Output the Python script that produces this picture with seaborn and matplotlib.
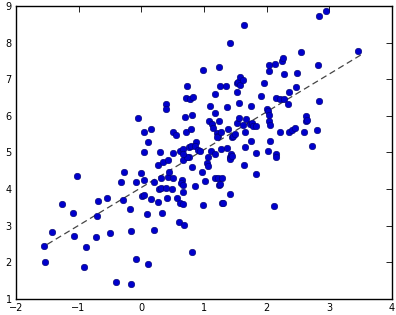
import matplotlib
matplotlib.use("Agg")
import matplotlib.pyplot as plt
import seaborn as sns
import pandas as pd

x_vals = [
    -1.55, -1.53, -1.42, -1.27, -1.09, -1.07, -1.02, -0.91, -0.88, -0.72,
    -0.71, -0.69, -0.55, -0.50, -0.41, -0.33, -0.29, -0.275, -0.18, -0.17,
    -0.17, -0.09, -0.08, -0.056, -0.01,
    0.01, 0.05, 0.045, 0.045, 0.045, 0.10, 0.10, 0.09, 0.15, 0.15,
    0.20, 0.21, 0.27, 0.28, 0.31, 0.27, 0.30, 0.32, 0.33, 0.34,
    0.40, 0.40, 0.40, 0.41, 0.43, 0.43, 0.45, 0.49,
    0.51, 0.55, 0.51, 0.51, 0.57, 0.60, 0.62, 0.62, 0.65, 0.64,
    0.66, 0.66, 0.66, 0.68, 0.67, 0.67, 0.70, 0.71, 0.71, 0.727,
    0.76, 0.76, 0.78, 0.73, 0.80, 0.80, 0.81, 0.81, 0.82, 0.81,
    0.86, 0.87, 0.85, 0.91, 0.93, 0.97, 0.98, 0.98, 0.67,
    1.01, 1.05, 1.07, 1.07, 1.08, 1.09, 1.11, 1.13, 1.15, 1.17,
    1.18, 1.18, 1.18, 1.21, 1.23, 1.21, 1.23, 1.24, 1.26, 1.24,
    1.24, 1.25, 1.27, 1.27, 1.29, 1.29, 1.31, 1.35, 1.37, 1.37,
    1.38, 1.41, 1.41, 1.42, 1.43, 1.42, 1.45, 1.45, 1.47, 1.50,
    1.52, 1.52, 1.53, 1.54, 1.56, 1.56, 1.57, 1.58, 1.63, 1.63,
    1.64, 1.64, 1.65, 1.66, 1.67, 1.74, 1.75, 1.75, 1.76, 1.79,
    1.83, 1.83, 1.83, 1.91, 1.96,
    2.00, 2.02, 2.02, 2.03, 2.04, 2.04, 2.04, 2.06, 2.05, 2.12,
    2.14, 2.15, 2.15, 2.15, 2.21, 2.22, 2.25, 2.26, 2.28, 2.28,
    2.34, 2.35, 2.36, 2.40, 2.46, 2.47, 2.48, 2.55, 2.60, 2.62,
    2.63, 2.65, 2.72, 2.80, 2.82, 2.83, 2.84, 2.95, 3.46,
]
y_vals = [
    2.44, 2.01, 2.83, 3.58, 3.35, 2.72, 4.37, 1.86, 2.42, 2.69,
    3.26, 3.68, 3.76, 2.79, 1.47, 4.19, 3.70, 4.47, 3.45, 2.86,
    1.40, 4.20, 2.09, 5.94, 4.45,
    3.81, 3.84, 4.26, 5.57, 5.02, 5.28, 1.96, 3.31, 3.72, 5.65,
    2.88, 4.20, 3.64, 4.00, 4.02, 4.66, 5.02, 4.29, 3.36, 4.73,
    6.32, 6.20, 4.02, 3.75, 4.79, 4.34, 4.47, 3.99,
    5.56, 5.48, 4.98, 4.31, 3.76, 3.11, 3.61, 5.05, 4.25, 4.16,
    4.11, 3.58, 3.93, 3.02, 4.79, 5.09, 5.96, 5.57, 6.49, 6.81,
    4.87, 5.14, 6.45, 4.88, 5.63, 5.18, 4.59, 2.27, 6.52, 6.03,
    4.08, 5.28, 5.17, 5.08, 5.05, 4.47, 3.57, 7.25, 4.95,
    4.22, 4.70, 4.63, 4.88, 5.87, 6.27, 5.05, 5.78, 5.68, 4.96,
    6.08, 6.61, 4.30, 5.52, 5.46, 5.43, 4.31, 4.10, 4.13, 5.87,
    7.33, 6.82, 5.56, 5.09, 4.29, 3.61, 3.61, 6.82, 6.23, 5.13,
    5.63, 3.86, 4.88, 4.81, 4.96, 8.00, 4.90, 5.43, 5.45, 5.50,
    6.90, 6.66, 5.80, 6.93, 6.36, 5.95, 7.07, 6.84, 6.98, 5.75,
    8.49, 4.66, 5.16, 5.57, 5.92, 5.78, 5.32, 6.27, 5.81, 5.73,
    5.73, 4.98, 4.41, 6.53, 6.89,
    6.19, 6.13, 5.05, 7.22, 7.40, 6.01, 5.87, 5.76, 5.32, 3.54,
    7.42, 6.49, 4.96, 4.88, 6.45, 5.55, 7.51, 7.57, 7.14, 6.47,
    6.32, 5.56, 6.66, 5.61, 5.66, 6.80, 7.16, 7.73, 5.55, 5.87,
    5.99, 5.90, 5.17, 5.60, 7.39, 8.73, 6.40, 8.85, 7.78,
]

# fitted line
line_x = [-1.5, 3.5]
line_y = [2.49, 7.66]

x_ticks = [-2, -1, 0, 1, 2, 3, 4]
y_ticks = [1, 2, 3, 4, 5, 6, 7, 8, 9]

df = pd.DataFrame({"x": x_vals, "y": y_vals})
line_df = pd.DataFrame({"x": line_x, "y": line_y})

sns.set_style("white")
plt.rcParams['font.family'] = ['DejaVu Sans']

fig = plt.figure(figsize=(3.96, 3.15), dpi=100)
ax = fig.add_axes([0.040, 0.051, 0.950, 0.930])

sns.scatterplot(data=df, x="x", y="y", ax=ax, s=22, color="#0000cc",
                edgecolor="#000066", linewidth=0.4, zorder=3)
sns.lineplot(data=line_df, x="x", y="y", ax=ax, color="#444444",
             linestyle=(0, (5, 3)), linewidth=0.9, zorder=2)

ax.set_xlim(-2, 4)
ax.set_ylim(1, 9)
ax.set_xticks(x_ticks)
ax.set_yticks(y_ticks)
ax.set_xticklabels([str(t).replace("-", "\u2212") for t in x_ticks])
ax.set_yticklabels([str(t) for t in y_ticks])
ax.set_xlabel("")
ax.set_ylabel("")
ax.tick_params(direction="in", top=True, right=True, length=4, width=0.6,
               labelsize=7, colors="black")
ax.tick_params(axis="x", pad=3)
ax.tick_params(axis="y", pad=3)
for sp in ax.spines.values():
    sp.set_visible(True)
    sp.set_color("black")
    sp.set_linewidth(1.0)

fig.savefig("out.png", dpi=100, facecolor="white")
